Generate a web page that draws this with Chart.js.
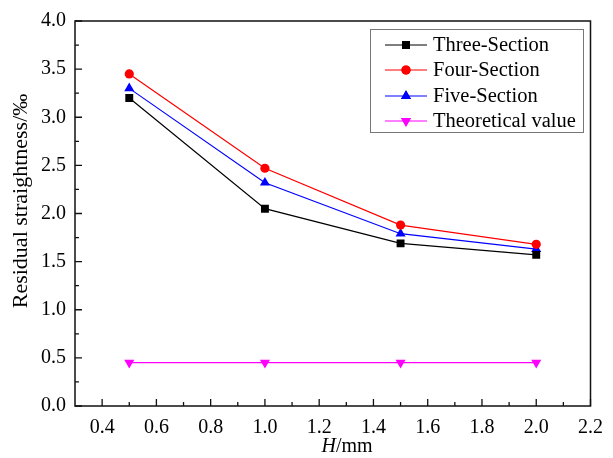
<!DOCTYPE html>
<html>
<head>
<meta charset="utf-8">
<script src="https://cdn.jsdelivr.net/npm/chart.js@4.4.1/dist/chart.umd.min.js"></script>
<style>
  html, body { margin: 0; padding: 0; background: #fff; }
  canvas { display: block; }
</style>
</head>
<body>
<canvas id="myChart" width="613" height="458"></canvas>
<script>
// data
const hValues = [0.5, 1.0, 1.5, 2.0];
const threeSection = [3.20, 2.05, 1.69, 1.57];
const fourSection = [3.45, 2.47, 1.88, 1.68];
const fiveSection = [3.30, 2.32, 1.79, 1.63];
const theoretical = [0.45, 0.45, 0.45, 0.45];

const xTicks = [0.4, 0.6, 0.8, 1.0, 1.2, 1.4, 1.6, 1.8, 2.0, 2.2];
const yTicks = [0, 0.5, 1.0, 1.5, 2.0, 2.5, 3.0, 3.5, 4.0];

const FONT = '"Liberation Serif", "Times New Roman", serif';

function pts(ys) {
  return hValues.map((x, i) => ({ x: x, y: ys[i] }));
}

function series(label, ys, color, style, radius, rotation) {
  return {
    label: label,
    data: pts(ys),
    borderColor: color,
    backgroundColor: color,
    borderWidth: 1.2,
    pointStyle: style,
    pointRadius: radius,
    pointRotation: rotation || 0,
    pointBorderWidth: 0,
    pointBackgroundColor: color,
    tension: 0
  };
}

// frame + inward ticks, titles and legend
const framePlugin = {
  id: 'frame',
  beforeDatasetsDraw(chart) {
    const { ctx, chartArea: a, scales } = chart;
    ctx.save();
    ctx.strokeStyle = '#111';
    ctx.lineWidth = 1.5;
    ctx.strokeRect(a.left, a.top, a.right - a.left, a.bottom - a.top);

    ctx.lineWidth = 1.3;
    ctx.beginPath();
    xTicks.forEach(v => {
      const px = scales.x.getPixelForValue(v);
      ctx.moveTo(px, a.bottom); ctx.lineTo(px, a.bottom - 7);
      const m = scales.x.getPixelForValue(v - 0.1);
      if (m > a.left + 1) { ctx.moveTo(m, a.bottom); ctx.lineTo(m, a.bottom - 4); }
    });
    yTicks.forEach(v => {
      const py = scales.y.getPixelForValue(v);
      ctx.moveTo(a.left, py); ctx.lineTo(a.left + 7, py);
      if (v > 0) {
        const m = scales.y.getPixelForValue(v - 0.25);
        ctx.moveTo(a.left, m); ctx.lineTo(a.left + 4, m);
      }
    });
    ctx.stroke();
    ctx.restore();
  },
  afterDraw(chart) {
    const { ctx } = chart;
    ctx.save();
    ctx.fillStyle = '#000';

    // y title
    ctx.save();
    ctx.translate(21, 201);
    ctx.rotate(-Math.PI / 2);
    ctx.font = '22px ' + FONT;
    ctx.textAlign = 'center';
    ctx.textBaseline = 'middle';
    ctx.fillText('Residual straightness/‰', 0, 0);
    ctx.restore();

    // x title: italic H + /mm
    ctx.textBaseline = 'middle';
    ctx.textAlign = 'left';
    ctx.font = 'italic 20px ' + FONT;
    const wH = ctx.measureText('H').width;
    ctx.font = '20px ' + FONT;
    const wR = ctx.measureText('/mm').width;
    const x0 = 347 - (wH + wR) / 2;
    ctx.font = 'italic 20px ' + FONT;
    ctx.fillText('H', x0, 447);
    ctx.font = '20px ' + FONT;
    ctx.fillText('/mm', x0 + wH, 447);

    // legend box
    const bx = 370, by = 29, bw = 213, bh = 103;
    ctx.strokeStyle = '#777';
    ctx.lineWidth = 1;
    ctx.fillStyle = '#fff';
    ctx.fillRect(bx, by, bw, bh);
    ctx.strokeRect(bx + 0.5, by + 0.5, bw, bh);
    const rows = [45, 70, 96, 121];
    chart.data.datasets.forEach((ds, i) => {
      const y = rows[i];
      ctx.strokeStyle = ds.borderColor;
      ctx.lineWidth = 1.2;
      ctx.beginPath();
      ctx.moveTo(385, y); ctx.lineTo(427, y);
      ctx.stroke();
      ctx.fillStyle = ds.pointBackgroundColor;
      Chart.helpers.drawPoint(ctx, {
        pointStyle: ds.pointStyle,
        radius: ds.pointRadius,
        rotation: ds.pointRotation,
        borderWidth: 0
      }, 406, y);
      ctx.fill();
      ctx.fillStyle = '#000';
      ctx.font = '20.5px ' + FONT;
      ctx.textAlign = 'left';
      ctx.textBaseline = 'middle';
      ctx.fillText(ds.label, 433, y + 1);
    });
    ctx.restore();
  }
};

const ctx = document.getElementById('myChart').getContext('2d');
new Chart(ctx, {
  type: 'line',
  data: {
    datasets: [
      series('Three-Section', threeSection, '#000000', 'rect', 5.6),
      series('Four-Section', fourSection, '#ff0000', 'circle', 4.6),
      series('Five-Section', fiveSection, '#0000ff', 'triangle', 5.8),
      series('Theoretical value', theoretical, '#ff00ff', 'triangle', 5.8, 180)
    ]
  },
  options: {
    responsive: false,
    animation: false,
    devicePixelRatio: 1,
    layout: { padding: { left: 0, top: 19, right: 14, bottom: 0 } },
    plugins: {
      legend: { display: false },
      tooltip: { enabled: false }
    },
    scales: {
      x: {
        type: 'linear',
        min: 0.3,
        max: 2.2,
        afterBuildTicks: s => { s.ticks = xTicks.map(v => ({ value: v })); },
        afterFit: s => { s.height = 52; },
        grid: { display: false, drawTicks: false },
        border: { display: false },
        ticks: {
          padding: 10,
          color: '#000',
          font: { family: FONT, size: 20 },
          callback: v => Number(v).toFixed(1),
          maxRotation: 0,
          autoSkip: false
        }
      },
      y: {
        type: 'linear',
        min: 0,
        max: 4,
        afterBuildTicks: s => { s.ticks = yTicks.map(v => ({ value: v })); },
        afterFit: s => { s.width = 75; },
        grid: { display: false, drawTicks: false },
        border: { display: false },
        ticks: {
          padding: 9,
          color: '#000',
          font: { family: FONT, size: 20 },
          callback: v => Number(v).toFixed(1),
          autoSkip: false
        }
      }
    }
  },
  plugins: [framePlugin]
});
</script>
</body>
</html>
